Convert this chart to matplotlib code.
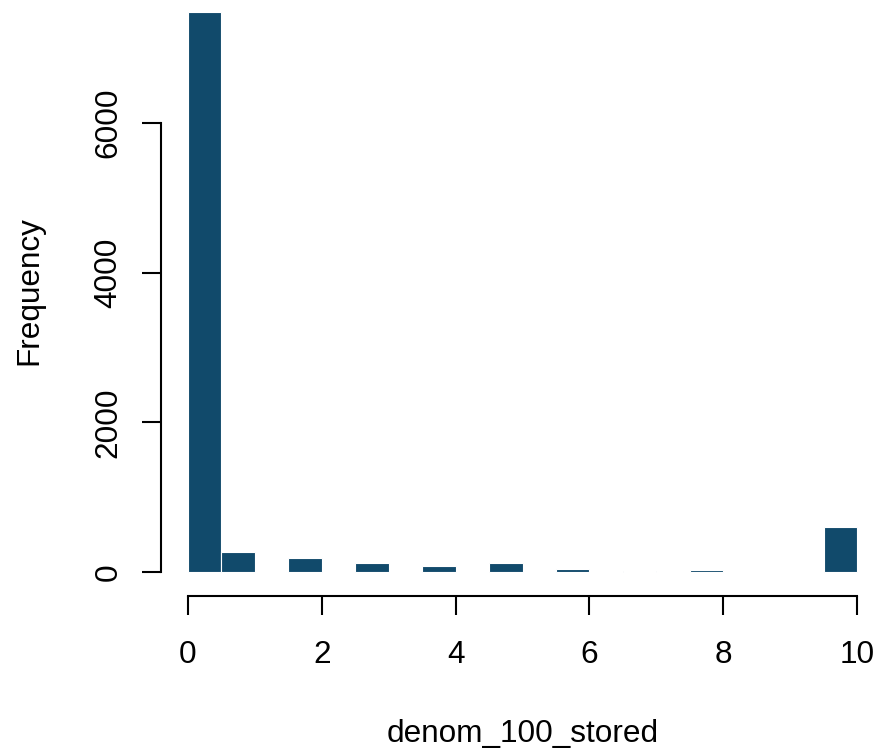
import numpy as np
import matplotlib
matplotlib.use('Agg')
import matplotlib.pyplot as plt

# histogram of denom_100_stored, bins of width 0.5 from 0 to 10
bin_edges = np.arange(0, 10.5, 0.5)
counts = [7480, 267, 0, 183, 0, 120, 0, 85, 0, 120,
          0, 45, 0, 8, 0, 25, 0, 0, 0, 600]

plt.rcParams['font.family'] = ['Liberation Sans', 'DejaVu Sans']
FS = 22.7

W, H = 877, 750
fig = plt.figure(figsize=(W / 100, H / 100), dpi=100)
ax = fig.add_axes([161 / W, (H - 596) / H, (W - 161) / W, 596 / H])

ax.bar(bin_edges[:-1], counts, width=0.5, align='edge',
       color='#114a6b', edgecolor='white', linewidth=0.8)

px_x = 669 / 10.0          # pixels per x unit
px_y = 449 / 6000.0        # pixels per y unit
ax.set_xlim(-27 / px_x, (W - 188) / px_x)
ax.set_ylim(-24 / px_y, 572 / px_y)

for s in ['top', 'right']:
    ax.spines[s].set_visible(False)
ax.spines['bottom'].set_bounds(0, 10)
ax.spines['left'].set_bounds(0, 6000)
ax.spines['bottom'].set_linewidth(1.5)
ax.spines['left'].set_linewidth(1.5)

ax.set_xticks([0, 2, 4, 6, 8, 10])
ax.set_yticks([0, 2000, 4000, 6000])
ax.tick_params(direction='out', length=13.5, width=1.5, labelsize=FS)
ax.tick_params(axis='x', pad=18)
ax.tick_params(axis='y', pad=13.5)
for lbl in ax.get_yticklabels():
    lbl.set_rotation(90)
    lbl.set_va('center')

# axis titles placed like R's mtext lines
fig.text(522.5 / W, (H - 742) / H, 'denom_100_stored', fontsize=FS,
         ha='center', va='baseline')
fig.text(29 / W, (H - 291) / H, 'Frequency', fontsize=FS,
         rotation=90, ha='center', va='center')

fig.savefig('out.png', dpi=100)
